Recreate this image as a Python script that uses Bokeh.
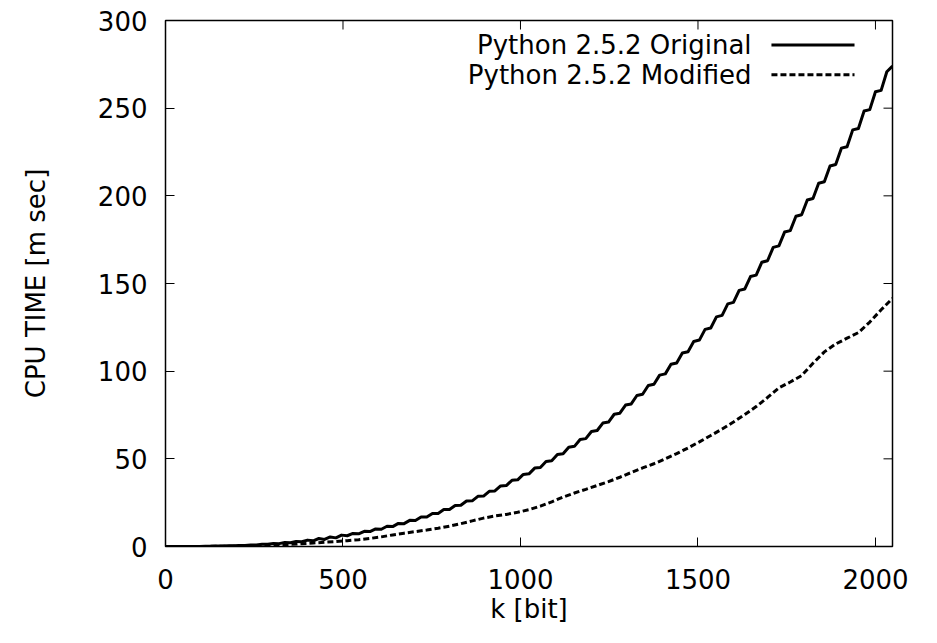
from bokeh.plotting import figure
from bokeh.models import Range1d, FixedTicker, Label, Arrow
from bokeh.embed import file_html
from bokeh.resources import INLINE

# ---------------- data ----------------
k_orig = list(range(0, 2049, 16))
t_orig = [
    0.0, 0.0, 0.0, 0.01, 0.02, 0.05, 0.06, 0.12, 0.14, 0.24,
    0.25, 0.40, 0.41, 0.63, 0.63, 0.92, 0.90, 1.29, 1.24, 1.74,
    1.64, 2.27, 2.12, 2.91, 2.68, 3.64, 3.25, 4.56, 4.04, 5.47,
    4.93, 6.49, 6.13, 7.43, 7.24, 8.68, 8.49, 10.05, 9.85, 11.56,
    11.37, 13.17, 13.03, 14.92, 14.82, 16.82, 16.76, 18.87, 18.85, 21.06,
    21.09, 23.42, 23.49, 25.94, 26.05, 28.63, 28.78, 31.48, 31.69, 34.51,
    34.75, 37.73, 38.01, 41.12, 41.45, 44.71, 45.07, 48.50, 48.89, 52.47,
    52.89, 56.64, 57.12, 61.02, 61.52, 65.61, 66.15, 70.41, 70.98, 75.43,
    76.03, 80.67, 81.30, 86.13, 86.80, 91.82, 92.51, 97.75, 98.46, 103.92,
    104.65, 110.32, 111.06, 116.96, 117.73, 123.85, 124.64, 130.99, 131.80, 138.39,
    139.21, 146.06, 146.89, 153.97, 154.80, 162.15, 162.99, 170.62, 171.47, 179.34,
    180.18, 188.35, 189.20, 197.64, 198.48, 207.20, 208.02, 217.05, 217.87, 227.19,
    228.01, 237.62, 238.42, 248.36, 249.15, 259.40, 260.17, 270.74, 274.0,
]

k_mod = list(range(0, 2049, 32))
t_mod = [
    0.0, 0.0, 0.01, 0.03, 0.08, 0.14, 0.23, 0.35, 0.5, 0.7,
    0.95, 1.25, 1.6, 2.0, 2.4, 2.8, 3.3, 3.9, 4.6, 5.5,
    6.6, 7.6, 8.5, 9.4, 10.4, 11.6, 13.0, 14.6, 16.2, 17.4,
    18.3, 19.5, 21.0, 23.0, 25.5, 28.2, 30.5, 32.6, 34.8, 37.0,
    39.5, 42.2, 44.8, 47.2, 50.0, 53.0, 56.2, 59.7, 63.3, 67.0,
    71.0, 75.3, 79.8, 85.0, 90.5, 93.8, 97.5, 104.5, 111.0, 115.5,
    118.8, 122.0, 128.0, 135.0, 141.5,
]

series_names = ["Python 2.5.2 Original", "Python 2.5.2 Modified"]
x_ticks = [0, 500, 1000, 1500, 2000]
y_ticks = [0, 50, 100, 150, 200, 250, 300]
x_label = "k [bit]"
y_label = "CPU TIME [m sec]"
X_MAX = 2048
Y_MAX = 300

# ---------------- styling ----------------
FONT = "DejaVu Sans"
FS = "26px"
FRAME_W, FRAME_H = 727, 526
TICK_LEN = 9

p = figure(
    frame_width=FRAME_W, frame_height=FRAME_H,
    min_border_left=165, min_border_right=29,
    min_border_top=20, min_border_bottom=81,
    x_range=Range1d(0, X_MAX), y_range=Range1d(0, Y_MAX),
    output_backend="svg", toolbar_location=None,
)
p.background_fill_color = "white"
p.border_fill_color = "white"
p.outline_line_color = "black"
p.outline_line_width = 1.5
p.outline_line_alpha = 1.0
p.grid.visible = False


def style_axis(ax, ticks):
    ax.ticker = FixedTicker(ticks=ticks)
    ax.major_tick_in = TICK_LEN
    ax.major_tick_out = 0
    ax.minor_tick_in = 0
    ax.minor_tick_out = 0
    ax.major_tick_line_color = "black"
    ax.major_tick_line_width = 1
    ax.axis_line_color = None
    ax.major_label_text_font = FONT
    ax.major_label_text_font_size = FS
    ax.major_label_text_color = "black"
    ax.axis_label_text_font = FONT
    ax.axis_label_text_font_size = FS
    ax.axis_label_text_font_style = "normal"
    ax.axis_label_text_color = "black"


style_axis(p.xaxis[0], x_ticks)
style_axis(p.yaxis[0], y_ticks)
p.xaxis[0].axis_label = x_label
p.yaxis[0].axis_label = y_label
p.xaxis[0].major_label_standoff = 22
p.xaxis[0].axis_label_standoff = 2
p.yaxis[0].major_label_standoff = 18
p.yaxis[0].axis_label_standoff = 44

# mirrored inward ticks on the top and right edges (gnuplot border style)
dy_tick = TICK_LEN * Y_MAX / FRAME_H
dx_tick = TICK_LEN * X_MAX / FRAME_W
p.segment(x0=x_ticks, y0=[Y_MAX] * len(x_ticks),
          x1=x_ticks, y1=[Y_MAX - dy_tick] * len(x_ticks),
          line_color="black", line_width=1)
p.segment(x0=[X_MAX] * len(y_ticks), y0=y_ticks,
          x1=[X_MAX - dx_tick] * len(y_ticks), y1=y_ticks,
          line_color="black", line_width=1)

# ---------------- series ----------------
p.line(k_orig, t_orig, line_color="black", line_width=3, line_join="round")
p.line(k_mod, t_mod, line_color="black", line_width=3, line_dash="6 3")

# ---------------- key (gnuplot style: text, then sample) ----------------
key_rows = [(286.0, None), (269.0, "6 3")]
for name, (ky, dash) in zip(series_names, key_rows):
    p.add_layout(Label(x=1651, y=ky, text=name, text_align="right",
                       text_baseline="middle", text_font=FONT,
                       text_font_size=FS, text_color="black"))
    arrow_kwargs = dict(x_start=1707, y_start=ky, x_end=1941, y_end=ky,
                        start=None, end=None, line_color="black", line_width=3)
    if dash:
        arrow_kwargs["line_dash"] = dash
    p.add_layout(Arrow(**arrow_kwargs))

open("out.html", "w").write(file_html(p, INLINE))
